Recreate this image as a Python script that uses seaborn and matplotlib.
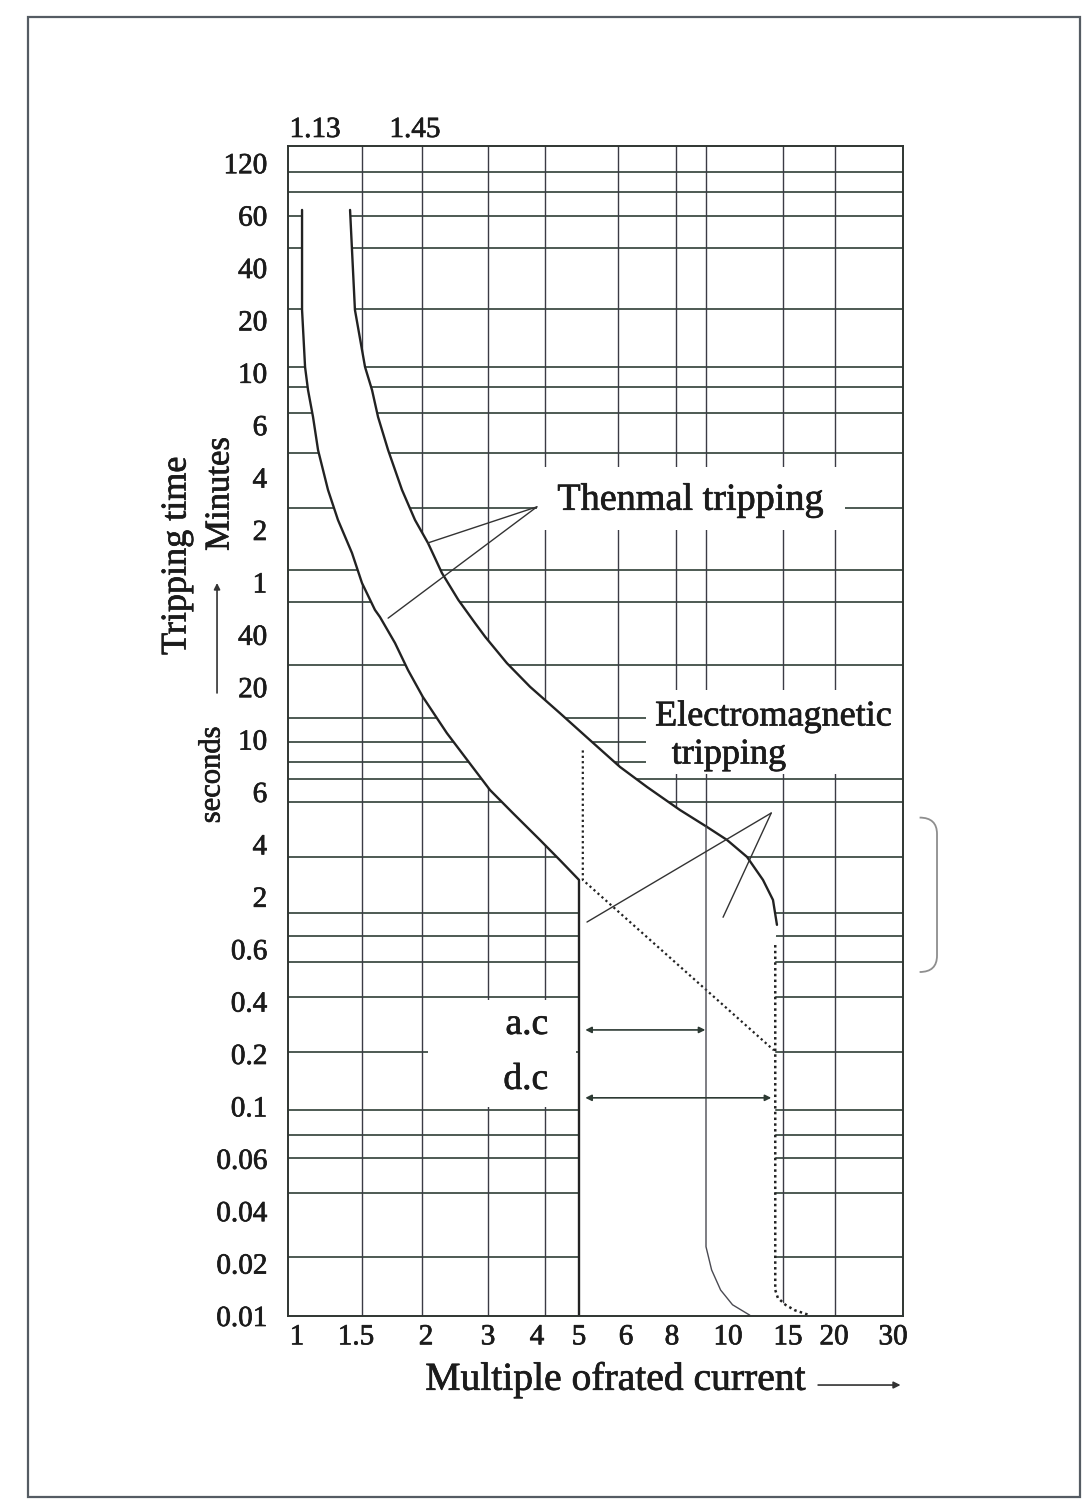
import numpy as np
import matplotlib
matplotlib.use("Agg")
import matplotlib.pyplot as plt
import matplotlib.patheffects as pe
import seaborn as sns
from matplotlib.patches import Rectangle, PathPatch
from matplotlib.path import Path
from matplotlib.transforms import ScaledTranslation

# values: x = multiple of rated current, y = tripping time (s)
lower_current = [1.08, 1.08, 1.08, 1.098, 1.116, 1.147, 1.179, 1.245, 1.315, 1.42, 1.50, 1.596,
                 1.635, 1.757, 1.87, 2.01, 2.33, 2.64, 3.03, 3.40, 3.90, 4.41, 5.0, 5.0]
lower_time = [3880, 2760, 1380, 648, 507, 390, 297, 204, 137, 88.5, 59.7, 48.5,
              45.9, 35.9, 25.1, 17.6, 10.9, 8.2, 6.12, 5.10, 4.14, 3.25, 2.5, 0.01]

upper_current = [1.405, 1.42, 1.443, 1.522, 1.574, 1.62, 1.70, 1.817, 1.934, 2.075, 2.26, 2.50,
                 2.77, 2.95, 3.30, 3.71, 4.41, 5.26, 6.06, 6.93, 8.24, 10.05, 11.17, 12.41,
                 13.50, 14.23, 14.53]
upper_time = [3880, 2760, 1380, 648, 507, 390, 297, 204, 137, 101, 68, 52.4,
              43.8, 38.9, 27.5, 20.1, 14.2, 9.96, 7.66, 6.30, 5.22, 4.58, 4.14, 3.39,
              2.50, 1.86, 1.05]

dc_current = [14.4, 14.4, 14.6, 15.2, 16.0, 17.4]
dc_time = [0.66, 0.0141, 0.0127, 0.0116, 0.0108, 0.0101]

ac_current = [10, 10, 10.3, 10.8, 11.5, 12.6]
ac_time = [4.6, 0.025, 0.0184, 0.0141, 0.0116, 0.0101]

em_current = [5.09, 5.09, 14.3]
em_time = [9.0, 2.5, 0.21]

x_ticks = [1, 1.5, 2, 3, 4, 5, 6, 8, 10, 15, 20, 30]
x_labels = ["1", "1.5", "2", "3", "4", "5", "6", "8", "10", "15", "20", "30"]
x_grid = [1.5, 2, 3, 4, 6, 8, 10, 15, 20]

# seconds; the first nine labels are minutes on the chart
y_ticks = [7200, 3600, 2400, 1200, 600, 360, 240, 120, 60, 40, 20, 10, 6, 4, 2,
           0.6, 0.4, 0.2, 0.1, 0.06, 0.04, 0.02, 0.01]
y_labels = ["120", "60", "40", "20", "10", "6", "4", "2", "1", "40", "20", "10", "6", "4", "2",
            "0.6", "0.4", "0.2", "0.1", "0.06", "0.04", "0.02", "0.01"]
y_grid = [6400, 4900, 3600, 2800, 1400, 650, 520, 405, 290, 160, 71, 51.6, 26.8, 13.3, 9.8,
          8.0, 6.8, 5.56, 3.39, 1.38, 0.81, 0.544, 0.415, 0.206, 0.0965, 0.0755, 0.0606,
          0.046, 0.0219]

# leader lines / arrows (current, seconds)
thermal_apex = (3.84, 163)
thermal_targets = [(2.07, 101), (1.70, 45.5)]
em_apex = (14.1, 5.1)
em_targets = [(5.19, 1.12), (10.94, 1.25)]
ac_span = (5.15, 9.95, 0.275)
dc_span = (5.15, 14.1, 0.112)

# ---- the chart's own warped axis scales ----
x_scale_log = np.log10(x_ticks)
x_scale_px = np.array([0, 74, 134, 200, 257, 291, 330, 388, 418, 495, 547, 615], float)

def x_fwd(v):
    return np.interp(np.log10(np.clip(v, 1e-9, None)), x_scale_log, x_scale_px)

def x_inv(p):
    return 10 ** np.interp(p, x_scale_px, x_scale_log)

y_sorted = [0.005] + sorted(y_ticks) + [14400]
y_scale_log = np.log10(y_sorted)
y_scale_pos = np.arange(len(y_sorted), dtype=float) - 1

def y_fwd(v):
    return np.interp(np.log10(np.clip(v, 1e-9, None)), y_scale_log, y_scale_pos)

def y_inv(p):
    return 10 ** np.interp(p, y_scale_pos, y_scale_log)

sns.set_theme(style="white")
plt.rcParams["font.family"] = ["Liberation Serif", "DejaVu Serif"]

TEXT = "#1b1b1b"
CURVE = "#222222"
HGRID = "#3f4d45"
VGRID = "#3b3b45"
bold_ink = [pe.withStroke(linewidth=0.5, foreground=TEXT)]

fig = plt.figure(figsize=(10.87, 14.99), dpi=100)
fig.patch.set_facecolor("white")
ax = fig.add_axes([288 / 1087, 183 / 1499, 615 / 1087, 1170 / 1499])
ax.set_facecolor("white")

# curves
sns.lineplot(x=lower_current, y=lower_time, sort=False, estimator=None, ax=ax,
             color=CURVE, lw=1.7, zorder=4)
sns.lineplot(x=upper_current, y=upper_time, sort=False, estimator=None, ax=ax,
             color=CURVE, lw=1.7, zorder=4)
sns.lineplot(x=dc_current, y=dc_time, sort=False, estimator=None, ax=ax,
             color=CURVE, lw=1.8, linestyle=(0, (1, 1.3)), zorder=4)
sns.lineplot(x=em_current, y=em_time, sort=False, estimator=None, ax=ax,
             color=CURVE, lw=1.6, linestyle=(0, (1, 1.4)), zorder=4)
sns.lineplot(x=ac_current, y=ac_time, sort=False, estimator=None, ax=ax,
             color="#4a4a52", lw=1.0, zorder=4)

ax.set_xscale("function", functions=(x_fwd, x_inv))
ax.set_yscale("function", functions=(y_fwd, y_inv))
ax.set_xlim(1, 30)
ax.set_ylim(0.01, y_inv(1170 / 52.4))

# grid
for v in y_grid:
    ax.axhline(v, color=HGRID, lw=1.3, zorder=1)
for v in x_grid:
    ax.axvline(v, color=VGRID, lw=1.0, zorder=1)

# white band between the characteristics hides the grid
band_x = upper_current + dc_current + [dc_current[-1]] + lower_current[::-1]
band_y = upper_time + dc_time + [0.008] + [0.008] + lower_time[::-1][1:]
ax.fill(band_x, band_y, color="white", lw=0, zorder=2)

# blank areas behind the annotation texts
for (x0, y0, w, h) in [(0.405, 0.672, 0.501, 0.054), (0.582, 0.463, 0.418, 0.072),
                       (0.228, 0.179, 0.240, 0.091)]:
    ax.add_patch(Rectangle((x0, y0), w, h, transform=ax.transAxes,
                           facecolor="white", edgecolor="none", zorder=2))

# leader lines
for tx, ty in thermal_targets:
    ax.plot([thermal_apex[0], tx], [thermal_apex[1], ty], color="#333", lw=1.0, zorder=4)
for tx, ty in em_targets:
    ax.plot([em_apex[0], tx], [em_apex[1], ty], color="#333", lw=1.0, zorder=4)

# a.c / d.c ranges
for x0, x1, t in [ac_span, dc_span]:
    ax.annotate("", xy=(x1, t), xytext=(x0, t),
                arrowprops=dict(arrowstyle="<|-|>", color="#2d3a33", lw=1.2,
                                mutation_scale=9, shrinkA=0, shrinkB=0), zorder=4)

tkw = dict(transform=ax.transAxes, color=TEXT, zorder=5, clip_on=False, path_effects=bold_ink)
ax.text(0.655, 0.697, "Thenmal tripping", fontsize=27.5, ha="center", va="center", **tkw)
ax.text(0.597, 0.512, "Electromagnetic", fontsize=26, ha="left", va="center", **tkw)
ax.text(0.624, 0.4795, "tripping", fontsize=26, ha="left", va="center", **tkw)
ax.text(0.423, 0.249, "a.c", fontsize=27, ha="right", va="center", **tkw)
ax.text(0.423, 0.202, "d.c", fontsize=27, ha="right", va="center", **tkw)
ax.text(0.044, 1.0137, "1.13", fontsize=21, ha="center", va="center", **tkw)
ax.text(0.2065, 1.0137, "1.45", fontsize=21, ha="center", va="center", **tkw)

# axis titles
ax.text(0.532, -0.0547, "Multiple ofrated current", fontsize=28.5, ha="center", va="center", **tkw)
ax.annotate("", xy=(0.996, -0.059), xytext=(0.862, -0.059), xycoords="axes fraction",
            arrowprops=dict(arrowstyle="-|>", color="#333", lw=1.2, mutation_scale=10,
                            shrinkA=0, shrinkB=0), annotation_clip=False)
ax.text(-0.1805, 0.650, "Tripping time", fontsize=26, rotation=90, ha="center", va="center", **tkw)
ax.text(-0.1106, 0.7026, "Minutes", fontsize=25, rotation=90, ha="center", va="center", **tkw)
ax.text(-0.1236, 0.4624, "seconds", fontsize=22, rotation=90, ha="center", va="center", **tkw)
ax.annotate("", xy=(-0.1154, 0.6265), xytext=(-0.1154, 0.5325), xycoords="axes fraction",
            arrowprops=dict(arrowstyle="-|>", color="#333", lw=1.2, mutation_scale=9,
                            shrinkA=0, shrinkB=0), annotation_clip=False)

# ticks
ax.set_xticks(x_ticks)
ax.set_xticklabels(x_labels)
ax.set_yticks(y_ticks)
ax.set_yticklabels(y_labels)
ax.xaxis.set_minor_locator(matplotlib.ticker.NullLocator())
ax.yaxis.set_minor_locator(matplotlib.ticker.NullLocator())
ax.tick_params(axis="x", length=0, pad=6, labelsize=21, labelcolor=TEXT)
ax.tick_params(axis="y", length=0, pad=15, labelsize=21, labelcolor=TEXT)
x_label_shift = [9, -6, 4, 0, -8, 0, 8, -4, 22, 5, -1, -10]
for lab, dx in zip(ax.get_xticklabels(), x_label_shift):
    lab.set_transform(lab.get_transform() + ScaledTranslation(dx / 100, 0, fig.dpi_scale_trans))
    lab.set_path_effects(bold_ink)
for lab in ax.get_yticklabels():
    lab.set_path_effects(bold_ink)
ax.set_xlabel("")
ax.set_ylabel("")

for s in ax.spines.values():
    s.set_color("#2f3531")
    s.set_linewidth(1.4)
    s.set_zorder(6)

# bracket on the right
bracket = Path([(1.027, 0.426), (1.0553, 0.426), (1.0553, 0.412), (1.0553, 0.308),
                (1.0553, 0.294), (1.027, 0.294)],
               [Path.MOVETO, Path.CURVE3, Path.CURVE3, Path.LINETO, Path.CURVE3, Path.CURVE3])
ax.add_patch(PathPatch(bracket, transform=ax.transAxes, fill=False, edgecolor="#8e8e8e",
                       lw=1.3, clip_on=False))

# page frame
fig.add_artist(Rectangle((28 / 1087, 2 / 1499), 1052 / 1087, 1480 / 1499, transform=fig.transFigure,
                         fill=False, edgecolor="#555c63", lw=1.6))

fig.savefig("out.png", dpi=100)
